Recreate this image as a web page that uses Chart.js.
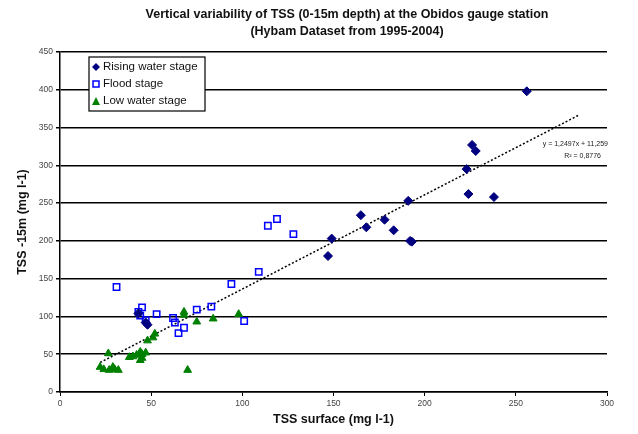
<!DOCTYPE html>
<html>
<head>
<meta charset="utf-8">
<script src="https://cdn.jsdelivr.net/npm/chart.js@4/dist/chart.umd.min.js"></script>
<style>
  html, body { margin: 0; padding: 0; background: #fff; }
  canvas { display: block; }
</style>
</head>
<body>
<canvas id="tssChart" width="638" height="434"></canvas>
<script>
// data (TSS surface vs TSS -15m, mg l-1)
const risingX = [43, 47, 48, 147, 149, 165, 168, 178, 183, 191, 192, 193, 223, 224, 226, 228, 238, 256];
const risingY = [104, 92, 89, 180, 203, 234, 218, 228, 214, 253, 200, 199, 295, 262, 327, 319, 258, 398];

const floodX = [31, 43, 45, 44, 47, 53, 62, 63, 65, 68, 75, 83, 94, 101, 109, 114, 119, 128];
const floodY = [139, 106, 112, 101, 95, 103, 98, 92, 78, 85, 109, 113, 143, 94, 159, 220, 229, 209];

const lowX = [22, 26.5, 24, 27, 30, 32, 29, 38, 40, 42, 44, 45, 44, 45, 47, 48, 51, 52, 68, 68, 75, 84, 98, 70];
const lowY = [33, 51, 30, 29, 30, 29, 33, 46, 47, 49, 53, 45, 42, 50, 52, 68, 72, 77, 106, 102, 93, 97, 103, 29];

// linear trend line end points
const trendX = [22, 285];
const trendY = [39, 367];

const xTicks = [0, 50, 100, 150, 200, 250, 300];
const yTicks = [0, 50, 100, 150, 200, 250, 300, 350, 400, 450];

const seriesNames = ['Rising water stage', 'Flood stage', 'Low water stage'];
const titleLines = ['Vertical variability of TSS (0-15m depth) at the Obidos gauge station', '(Hybam Dataset from 1995-2004)'];
const eqText = ['y = 1,2497x + 11,259', 'R\u00B2 = 0,8776'];

function toPoints(xs, ys) {
    return xs.map((x, i) => ({ x: x, y: ys[i] }));
}

const FONT = '"Liberation Sans", Arial, sans-serif';

// title, legend box inside the plot, regression label
const extrasPlugin = {
    id: 'extras',
    afterDatasetsDraw(chart) {
        const ctx = chart.ctx;
        const ys = chart.scales.y;
        ctx.save();

        // title
        ctx.fillStyle = '#111';
        ctx.font = 'bold 12.5px ' + FONT;
        ctx.textAlign = 'center';
        ctx.textBaseline = 'middle';
        ctx.fillText(titleLines[0], 347, 15);
        ctx.fillText(titleLines[1], 347, 32);

        // equation text
        ctx.fillStyle = '#222';
        ctx.font = '7px ' + FONT;
        ctx.textAlign = 'right';
        ctx.fillText(eqText[0], chart.chartArea.right + 1, ys.getPixelForValue(328));
        ctx.fillText(eqText[1], chart.chartArea.right - 6, ys.getPixelForValue(312));

        // legend
        const bx = 89, by = 57, bw = 116, bh = 54;
        ctx.fillStyle = '#fff';
        ctx.fillRect(bx, by, bw, bh);
        ctx.strokeStyle = '#000';
        ctx.lineWidth = 1.2;
        ctx.strokeRect(bx, by, bw, bh);

        const rowsY = [67, 84, 101];
        ctx.font = '11.5px ' + FONT;
        ctx.textAlign = 'left';
        chart.data.datasets.slice(0, 3).forEach((ds, i) => {
            const mx = 96, my = rowsY[i];
            ctx.lineWidth = ds.borderWidth;
            ctx.strokeStyle = ds.borderColor;
            ctx.beginPath();
            if (ds.pointStyle === 'rectRot') {
                ctx.fillStyle = ds.backgroundColor;
                ctx.moveTo(mx, my - 4); ctx.lineTo(mx + 4, my); ctx.lineTo(mx, my + 4); ctx.lineTo(mx - 4, my); ctx.closePath();
                ctx.fill();
            } else if (ds.pointStyle === 'rect') {
                ctx.fillStyle = '#fff';
                ctx.rect(mx - 3, my - 3, 6, 6);
                ctx.fill(); ctx.stroke();
            } else {
                ctx.fillStyle = ds.backgroundColor;
                ctx.moveTo(mx, my - 4); ctx.lineTo(mx + 4, my + 4); ctx.lineTo(mx - 4, my + 4); ctx.closePath();
                ctx.fill();
            }
            ctx.fillStyle = '#111';
            ctx.fillText(seriesNames[i], 103, my);
        });
        ctx.restore();
    }
};

const ctx = document.getElementById('tssChart').getContext('2d');
const chart = new Chart(ctx, {
    type: 'scatter',
    data: {
        datasets: [
            {
                label: seriesNames[0],
                data: toPoints(risingX, risingY),
                pointStyle: 'rectRot',
                pointRadius: 4.5,
                backgroundColor: '#000080',
                borderColor: '#000080',
                borderWidth: 1
            },
            {
                label: seriesNames[1],
                data: toPoints(floodX, floodY),
                pointStyle: 'rect',
                pointRadius: 4.5,
                backgroundColor: 'rgba(0,0,0,0)',
                borderColor: '#0000ff',
                borderWidth: 1.5
            },
            {
                label: seriesNames[2],
                data: toPoints(lowX, lowY),
                pointStyle: 'triangle',
                pointRadius: 4.5,
                backgroundColor: '#008000',
                borderColor: '#008000',
                borderWidth: 1
            },
            {
                label: 'Linear',
                type: 'line',
                data: toPoints(trendX, trendY),
                borderColor: '#000',
                borderWidth: 1.5,
                borderDash: [2, 2],
                pointRadius: 0,
                fill: false
            }
        ]
    },
    options: {
        responsive: false,
        animation: false,
        layout: { padding: { top: 52, right: 31, left: 0, bottom: 0 } },
        plugins: {
            legend: { display: false },
            tooltip: { enabled: false },
            title: { display: false }
        },
        scales: {
            x: {
                type: 'linear',
                min: 0,
                max: 300,
                afterBuildTicks: s => { s.ticks = xTicks.map(v => ({ value: v })); },
                afterFit: s => { s.height = 42; },
                border: { color: '#000', width: 1.5 },
                grid: { drawOnChartArea: false, color: '#000', tickLength: 4, lineWidth: 1 },
                ticks: { color: '#444', font: { family: FONT, size: 8.5 }, padding: 3 },
                title: {
                    display: true,
                    text: 'TSS surface (mg l-1)',
                    color: '#111',
                    font: { family: FONT, size: 12.5, weight: 'bold' },
                    padding: { top: 0, bottom: 7 }
                }
            },
            y: {
                type: 'linear',
                min: 0,
                max: 450,
                afterBuildTicks: s => { s.ticks = yTicks.map(v => ({ value: v })); },
                afterFit: s => { s.width = 60; },
                border: { color: '#000', width: 1.5 },
                grid: { color: '#000', lineWidth: 1.5, tickLength: 4 },
                ticks: { color: '#444', font: { family: FONT, size: 8.5 }, padding: 3 },
                title: {
                    display: true,
                    text: 'TSS -15m (mg l-1)',
                    color: '#111',
                    font: { family: FONT, size: 12.5, weight: 'bold' },
                    padding: { top: 15, bottom: 0 }
                }
            }
        }
    },
    plugins: [extrasPlugin]
});
</script>
</body>
</html>
